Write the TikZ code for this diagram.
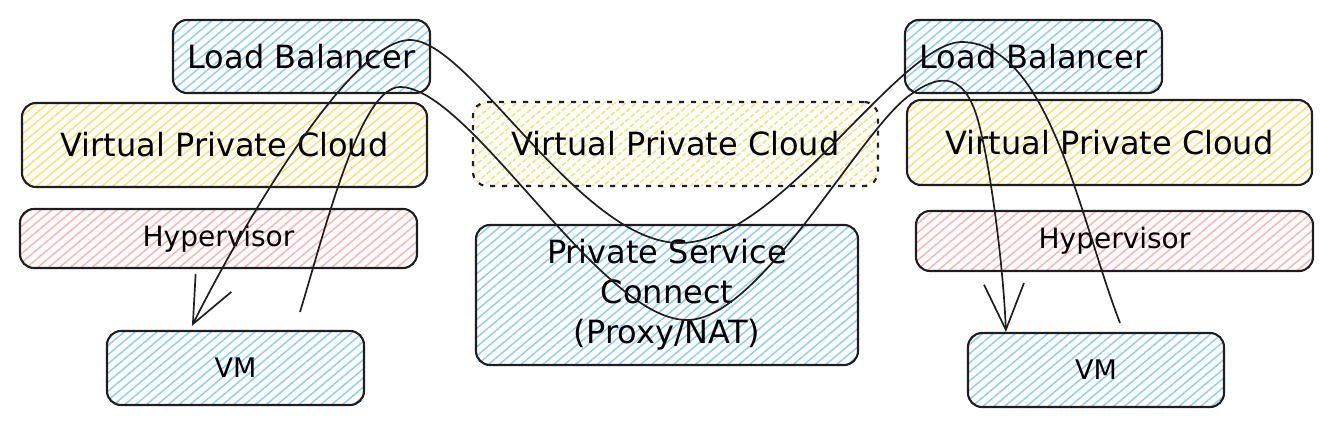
\documentclass[tikz,border=0pt]{standalone}
\usepackage{fontspec}
\setmainfont{DejaVu Sans}
\usepackage{tikz}
\usetikzlibrary{shapes,arrows,arrows.meta,positioning,calc,patterns.meta}
\definecolor{inkline}{HTML}{1E1E1E}
\definecolor{hatchblue}{HTML}{8FCDFB}
\definecolor{hatchyellow}{HTML}{FFDF73}
\definecolor{hatchred}{HTML}{FFB3B3}
\tikzset{
block/.style = {draw=inkline, line width=2.1pt, rectangle, rounded corners=14pt, align = center, font=\fontsize{32}{40}\selectfont},
blueblock/.style = {block, pattern={Lines[angle=40,distance=7pt,line width=1.5pt]}, pattern color=hatchblue},
yellowblock/.style = {block, pattern={Lines[angle=40,distance=7pt,line width=1.5pt]}, pattern color=hatchyellow},
redblock/.style = {block, pattern={Lines[angle=40,distance=7pt,line width=1.5pt]}, pattern color=hatchred, font=\fontsize{28}{34}\selectfont},
vmblock/.style = {blueblock, font=\fontsize{27}{32}\selectfont},
link/.style = {draw=inkline, line width=1.7pt},
}

\begin{document}
\begin{tikzpicture}[x=1pt,y=-1pt,>={Straight Barb[length=46pt,width=40pt]}]
        \useasboundingbox (0,0) rectangle (1333,427);
        %left stack
        \node [blueblock, minimum width=257pt, minimum height=73pt] (lbL) at(301.5,56.5) {Load Balancer};
        \node [yellowblock, minimum width=405pt, minimum height=84pt] (vpcL) at(224.5,145) {Virtual Private Cloud};
        \node [redblock, minimum width=397pt, minimum height=59pt] (hypL) at(218.5,238.5) {Hypervisor};
        \node [vmblock, minimum width=257pt, minimum height=74pt] (vmL) at(235.5,368) {VM};
        %middle
        \node [yellowblock, dashed, dash pattern=on 5pt off 7pt, minimum width=405pt, minimum height=84pt] (vpcM) at(675.5,144) {Virtual Private Cloud};
        \node [blueblock, minimum width=382pt, minimum height=140pt] (psc) at(667,295) {Private Service\\Connect\\(Proxy/NAT)};
        %right stack
        \node [blueblock, minimum width=257pt, minimum height=73pt] (lbR) at(1033.5,56.5) {Load Balancer};
        \node [yellowblock, minimum width=405pt, minimum height=85pt] (vpcR) at(1109.5,142.5) {Virtual Private Cloud};
        \node [redblock, minimum width=397pt, minimum height=60pt] (hypR) at(1114.5,241) {Hypervisor};
        \node [vmblock, minimum width=256pt, minimum height=74pt] (vmR) at(1096,370) {VM};

        \coordinate (reqstart) at (300,312);
        \coordinate (respstart) at (1120,323);
        %request: left VM to right VM
        \draw [link,->] (reqstart) .. controls (325,230) and (360,87) .. (400,87)
            .. controls (470,87) and (600,320) .. (687,320)
            .. controls (760,320) and (860,130) .. (910,95)
            .. controls (935,77) and (962,68) .. (977,117)
            .. controls (989,157) and (1003,260) .. ($(vmR.north west)+(39,0)$);
        %response: right VM back to left VM
        \draw [link,->] (respstart) .. controls (1080,220) and (1050,45) .. (963,42)
            .. controls (900,40) and (780,243) .. (680,243)
            .. controls (580,243) and (470,40) .. (410,40)
            .. controls (350,40) and (240,230) .. ($(vmL.north west)+(86,-4)$);
\end{tikzpicture}
\end{document}
